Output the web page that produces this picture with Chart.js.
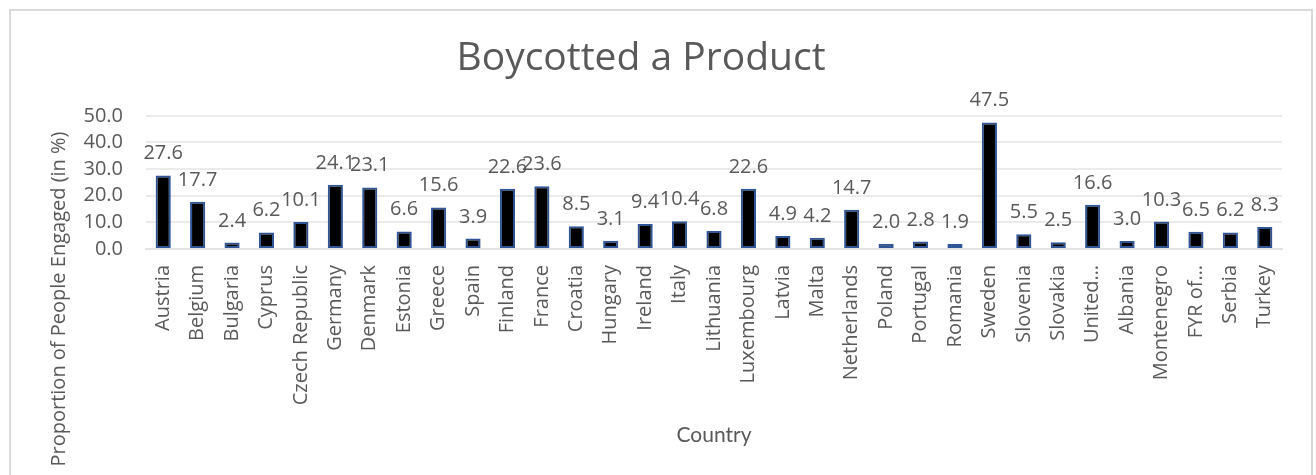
<!DOCTYPE html>
<html>
<head>
<meta charset="utf-8">
<script src="https://cdn.jsdelivr.net/npm/chart.js@4/dist/chart.umd.min.js"></script>
<style>
  html, body { margin: 0; padding: 0; background: #fff; overflow: hidden; }
  body { width: 1316px; height: 475px; position: relative; }
  .frame { position: absolute; left: 9px; top: 9px; width: 1300px; height: 600px; border: 2px solid #d9d9d9; }
  #chart { position: absolute; left: 0; top: 0; }
</style>
</head>
<body>
<div class="frame"></div>
<canvas id="chart" width="1316" height="475"></canvas>
<script>
  // Countries as they appear on the axis (long names are cut off in the original)
  const countries = [
    "Austria", "Belgium", "Bulgaria", "Cyprus", "Czech Republic", "Germany",
    "Denmark", "Estonia", "Greece", "Spain", "Finland", "France", "Croatia",
    "Hungary", "Ireland", "Italy", "Lithuania", "Luxembourg", "Latvia", "Malta",
    "Netherlands", "Poland", "Portugal", "Romania", "Sweden", "Slovenia",
    "Slovakia", "United…", "Albania", "Montenegro", "FYR of…", "Serbia", "Turkey",
  ];

  // Proportion of people who boycotted a product (in %)
  const boycotted = [
    27.6, 17.7, 2.4, 6.2, 10.1, 24.1,
    23.1, 6.6, 15.6, 3.9, 22.6, 23.6, 8.5,
    3.1, 9.4, 10.4, 6.8, 22.6, 4.9, 4.2,
    14.7, 2.0, 2.8, 1.9, 47.5, 5.5,
    2.5, 16.6, 3.0, 10.3, 6.5, 6.2, 8.3,
  ];

  const yTicks = [0, 10, 20, 30, 40, 50];

  const grey = "#595959";
  const font = "'Open Sans', sans-serif";

  // value labels above each bar
  const barLabels = {
    id: "barLabels",
    afterDatasetsDraw(chart) {
      const ctx = chart.ctx;
      const meta = chart.getDatasetMeta(0);
      ctx.save();
      ctx.fillStyle = grey;
      ctx.font = "20px " + font;
      ctx.textAlign = "center";
      ctx.textBaseline = "alphabetic";
      meta.data.forEach((bar, i) => {
        ctx.fillText(boycotted[i].toFixed(1), bar.x, bar.y - 16);
      });
      ctx.restore();
    },
  };

  // y axis title sits lower than the plot in the original, so draw it by hand
  const yTitle = {
    id: "yTitle",
    afterDraw(chart) {
      const ctx = chart.ctx;
      ctx.save();
      ctx.translate(59, 299);
      ctx.rotate(-Math.PI / 2);
      ctx.fillStyle = grey;
      ctx.font = "20px " + font;
      ctx.textAlign = "center";
      ctx.textBaseline = "middle";
      ctx.fillText("Proportion of People Engaged (in %)", 0, 0);
      ctx.restore();
    },
  };

  new Chart(document.getElementById("chart"), {
    type: "bar",
    data: {
      labels: countries,
      datasets: [
        {
          label: "Boycotted a Product",
          data: boycotted,
          backgroundColor: "#000000",
          borderColor: "#2f5597",
          borderWidth: 2,
          borderSkipped: false,
          categoryPercentage: 1,
          barPercentage: 0.44,
        },
      ],
    },
    options: {
      responsive: false,
      animation: false,
      layout: { padding: { left: 0, right: 34, top: 0, bottom: 0 } },
      plugins: {
        legend: { display: false },
        tooltip: { enabled: false },
        title: {
          display: true,
          text: "Boycotted a Product",
          color: grey,
          font: { family: font, size: 39, weight: "normal" },
          padding: { top: 35, bottom: 34 },
        },
      },
      scales: {
        x: {
          grid: { display: false, drawTicks: false },
          border: { color: "#e3e3e3", width: 2 },
          ticks: {
            autoSkip: false,
            minRotation: 90,
            maxRotation: 90,
            padding: 16,
            color: grey,
            font: { family: font, size: 20 },
          },
          title: {
            display: true,
            text: "Country",
            color: grey,
            font: { family: "Lato, sans-serif", size: 21 },
            padding: { top: 0, bottom: 27 },
          },
          afterFit(scale) {
            scale.height = 226;
          },
        },
        y: {
          min: yTicks[0],
          max: yTicks[yTicks.length - 1],
          afterBuildTicks(scale) {
            scale.ticks = yTicks.map((v) => ({ value: v }));
          },
          grid: { color: "#ebebeb", lineWidth: 2, drawTicks: false },
          border: { display: false },
          ticks: {
            autoSkip: false,
            padding: 23,
            color: grey,
            font: { family: font, size: 20 },
            callback: (v) => v.toFixed(1),
          },
          afterFit(scale) {
            scale.width = 146;
          },
        },
      },
    },
    plugins: [barLabels, yTitle],
  });
</script>
</body>
</html>
